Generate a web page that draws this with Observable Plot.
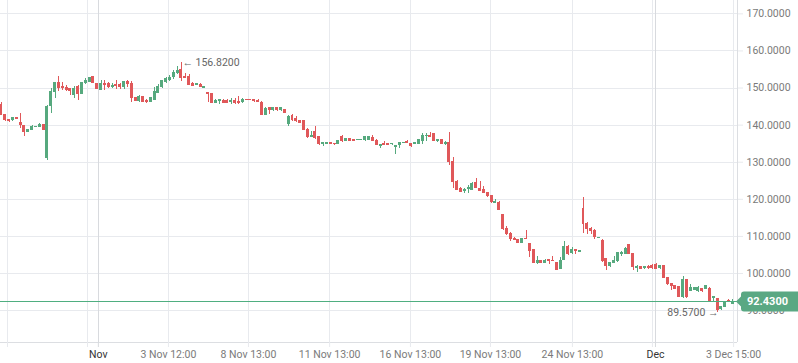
<!DOCTYPE html>
<html><head><meta charset="utf-8">
<script src="https://cdn.jsdelivr.net/npm/d3@7"></script>
<script src="https://cdn.jsdelivr.net/npm/@observablehq/plot@0.6"></script>
<style>html,body{margin:0;padding:0;background:#fff;overflow:hidden;width:798px;height:363px;} svg{display:block;}</style>
</head><body><div id="chart"></div>
<script>
const opens = [145.3,142.6,141.4,141.3,141.9,140.7,139.8,138.1,138.8,139.4,
139.6,140.1,131.1,145.1,148.8,151.4,150.2,150.0,149.7,148.1,
150.3,148.4,151.4,151.6,152.9,151.1,149.6,151.1,151.0,150.4,
150.9,150.8,150.2,151.5,151.2,147.4,146.6,147.7,146.5,146.3,
146.9,148.7,150.2,151.6,152.3,152.9,154.0,154.9,153.1,152.9,
151.1,150.9,150.9,150.0,148.6,148.4,146.1,146.4,146.6,146.4,
146.2,146.5,146.3,146.3,146.9,146.9,146.7,146.6,146.1,142.8,
144.6,144.0,144.5,144.0,144.2,140.2,142.5,141.6,141.0,141.0,
138.7,136.9,138.2,136.7,134.8,134.9,135.2,135.0,135.0,136.8,
135.8,136.3,135.9,136.0,136.0,135.9,136.1,136.6,135.7,134.5,
134.9,134.9,134.8,134.1,134.6,135.1,135.4,134.8,135.0,134.9,
135.6,137.0,137.2,137.5,135.7,135.9,135.0,135.1,130.0,124.8,
122.8,122.3,122.7,122.6,124.4,122.8,122.4,121.6,120.8,119.1,
119.1,115.9,111.9,110.6,109.3,108.9,108.1,109.4,107.9,106.4,
102.7,103.5,102.9,103.6,103.5,102.8,101.2,103.7,107.1,105.5,
106.4,105.9,117.4,113.4,111.9,111.4,109.6,108.8,103.9,101.9,
102.9,103.5,105.2,105.2,107.6,105.2,101.6,101.8,101.5,101.8,
101.9,102.2,101.6,101.9,98.7,97.2,96.6,96.3,93.6,98.3,
95.4,95.5,95.4,95.8,95.8,95.9,93.3,93.2,90.4,91.0,
92.6,91.9];
const highs = [146.0,142.9,141.6,142.1,142.1,143.2,140.0,138.9,139.9,139.6,
140.5,140.2,145.2,149.8,151.4,153.2,151.4,150.8,149.8,150.4,
150.8,151.4,152.5,152.9,153.0,151.2,152.0,152.0,151.5,151.1,
151.9,151.1,151.7,151.9,151.8,147.5,148.1,147.8,146.9,147.5,
150.2,150.9,152.1,152.8,153.5,154.6,155.7,156.82,153.8,153.6,
151.5,151.3,151.1,150.4,148.6,148.6,146.8,146.9,147.0,146.8,
147.1,147.1,147.8,147.1,146.9,146.9,147.0,147.0,146.3,144.8,
144.8,144.8,144.8,144.6,144.3,142.5,143.0,142.4,141.2,141.1,
139.0,138.2,139.6,136.9,135.3,135.3,135.3,135.1,135.6,137.1,
136.5,136.4,136.0,136.2,136.2,137.0,137.0,137.1,136.1,134.7,
135.6,135.0,135.0,134.4,135.1,135.4,135.8,134.9,135.3,136.2,
137.7,137.7,138.0,137.7,136.0,136.0,135.6,138.1,131.4,125.2,
123.2,123.0,123.6,124.5,125.6,124.7,123.4,121.8,121.0,119.9,
119.3,116.0,112.6,111.0,109.8,109.0,109.4,111.6,107.9,106.6,
104.5,103.6,103.7,103.6,104.6,103.0,104.4,108.5,107.6,107.1,
106.6,106.2,120.4,113.7,112.3,111.8,109.8,109.2,104.0,103.1,
104.5,105.7,106.0,106.9,107.8,105.4,102.2,102.0,101.8,102.1,
102.3,102.8,102.1,101.9,99.0,97.4,96.8,96.3,99.1,98.3,
97.1,96.3,96.4,95.8,96.9,96.2,93.8,93.3,91.0,92.4,
92.9,93.0];
const lows = [142.6,141.0,140.8,141.0,141.4,139.0,137.0,138.0,138.5,139.3,
139.4,138.5,130.6,143.1,147.1,149.1,149.3,149.2,148.0,147.1,
146.6,148.3,151.0,151.4,151.2,149.7,149.6,149.4,150.0,149.9,
149.7,149.6,149.6,150.1,146.0,146.5,146.2,146.0,145.7,146.2,
146.6,148.5,150.0,151.2,151.8,152.4,153.6,151.8,152.6,150.6,
150.4,150.7,150.1,149.9,146.1,145.9,145.7,145.6,145.9,145.8,
145.6,145.6,145.6,145.9,146.6,146.6,146.2,146.0,142.5,142.5,
143.0,143.7,143.6,143.6,143.2,139.6,141.0,140.8,140.4,138.6,
136.5,136.8,136.0,134.6,134.3,134.7,134.8,134.4,134.8,135.4,
135.5,135.7,135.5,135.8,135.8,135.6,135.9,135.5,134.5,133.6,
134.5,134.6,134.5,132.2,133.8,135.0,135.0,134.0,134.9,134.7,
134.9,135.6,136.6,135.6,135.4,134.7,134.4,129.2,123.0,122.5,
121.9,121.7,121.5,122.3,123.0,122.1,121.6,120.6,119.0,119.0,
117.1,111.7,110.3,108.7,108.8,108.0,108.1,109.1,104.4,102.7,
102.3,102.6,102.6,102.5,103.3,100.8,101.0,103.5,104.9,105.1,
105.1,105.8,110.9,110.6,110.6,109.3,109.5,103.0,100.8,101.6,
102.8,103.1,104.6,105.0,105.1,100.8,100.4,101.1,101.1,101.1,
101.1,101.1,101.2,98.6,96.9,95.5,95.6,93.4,93.3,93.3,
95.1,95.4,95.0,94.9,95.8,92.3,92.3,89.57,90.0,90.9,
92.2,91.6];
const closes = [142.8,141.3,141.0,141.8,141.6,140.1,138.1,138.8,139.4,139.5,
140.1,138.6,145.0,148.8,151.4,150.1,149.9,149.5,149.1,149.8,
148.4,151.4,152.0,152.8,151.3,149.7,151.1,150.9,150.2,150.6,
150.6,150.2,151.5,151.2,147.4,146.6,147.7,146.3,146.3,147.4,
148.8,150.2,151.8,152.5,152.8,154.1,154.5,152.8,152.8,150.9,
150.6,151.1,150.2,150.3,148.3,145.9,146.6,146.7,146.0,146.1,
146.6,146.1,145.9,146.8,146.7,146.7,146.4,146.2,142.8,144.3,
144.0,144.5,144.0,144.5,143.2,142.1,141.5,141.0,140.5,138.6,
136.9,137.0,136.5,135.0,135.1,135.2,135.0,134.8,135.6,135.6,
136.3,135.7,135.6,136.1,136.1,136.9,136.9,135.7,134.7,134.7,
134.7,134.7,135.0,134.3,135.1,135.3,135.1,134.5,135.2,136.1,
137.2,137.2,136.9,135.6,136.0,134.9,135.2,130.0,124.8,122.6,
122.1,122.6,123.0,124.1,123.0,122.3,121.6,120.8,119.2,119.3,
117.1,111.9,110.6,109.2,108.9,108.1,109.4,109.2,106.2,102.8,
103.5,102.7,103.4,103.4,103.3,101.0,103.5,107.1,105.3,106.4,
106.0,106.2,113.4,112.0,111.4,109.8,109.7,103.5,101.9,102.8,
103.5,105.6,105.6,106.7,105.3,101.7,101.8,101.2,101.8,101.5,
101.5,101.2,101.9,98.9,97.2,96.5,95.8,93.6,98.3,93.6,
96.2,96.0,96.1,95.3,96.7,92.7,93.6,90.2,90.9,92.2,
92.3,92.43];

const tickIndex = [1.57, 22.46, 43.6, 64.5, 85.7, 106.8, 127.7, 149.1, 170.0, 191.2];
const tickLabels = ["", "", "3 Nov 12:00", "8 Nov 13:00", "11 Nov 13:00", "16 Nov 13:00", "19 Nov 13:00", "24 Nov 13:00", "", "3 Dec 15:00"];
const monthIndex = [25.3, 170.8];
const monthLabels = ["Nov", "Dec"];
const yTicks = [90, 100, 110, 120, 130, 140, 150, 160, 170];
const lastPrice = 92.43;
const annotIndex = [47, 187];
const annotValue = [156.82, 89.57];
const annotLabels = ["\u2190 156.8200", "89.5700 \u2192"];

const RED = "#e0585a", GREEN = "#56a97e", LINE = "#4fae80";
const GRID = "#e8eaee", MONTH = "#d8dade";
const xDomain = [-0.261, 192.22];
const yDomain = [81.4, 173.6];

const candles = opens.map((o, i) => ({i, o, h: highs[i], l: lows[i], c: closes[i], up: closes[i] >= o}));
const ups = candles.filter(d => d.up), downs = candles.filter(d => !d.up);
const tickMap = new Map(tickIndex.map((t, k) => [t, tickLabels[k]]));
const monthMap = new Map(monthIndex.map((t, k) => [t, monthLabels[k]]));
const annots = annotIndex.map((i, k) => ({i, v: annotValue[k], label: annotLabels[k]}));

const bodyOpts = (color) => ({x1: d => d.i - 0.39, x2: d => d.i + 0.39, y1: "o", y2: "c", fill: color, insetTop: -0.5, insetBottom: -0.5, shapeRendering: "crispEdges"});
const wickOpts = (color) => ({x: "i", y1: "l", y2: "h", stroke: color, strokeWidth: 1, shapeRendering: "crispEdges"});

const plot = Plot.plot({
  width: 798, height: 363,
  marginLeft: 0, marginRight: 61, marginTop: 0, marginBottom: 21,
  style: {fontFamily: "Roboto, sans-serif", fontSize: "10.5px", background: "#fff", overflow: "hidden"},
  x: {domain: xDomain, axis: null, label: null},
  y: {domain: yDomain, axis: null, label: null},
  marks: [
    Plot.ruleY(yTicks, {stroke: GRID, shapeRendering: "crispEdges"}),
    Plot.ruleX(tickIndex, {stroke: GRID, shapeRendering: "crispEdges"}),
    Plot.ruleX(monthIndex, {stroke: MONTH, shapeRendering: "crispEdges"}),
    Plot.ruleY([yDomain[0]], {stroke: "#dcdee2", shapeRendering: "crispEdges"}),
    Plot.ruleX([xDomain[1]], {stroke: "#dcdee2", shapeRendering: "crispEdges"}),
    Plot.axisY(yTicks, {anchor: "right", label: null, tickSize: 5, tickPadding: 4, tickFormat: d => d.toFixed(4), stroke: GRID, fill: "#7a7a7a", fontSize: 10.5}),
    Plot.axisX(tickIndex, {anchor: "bottom", label: null, tickSize: 5, tickPadding: 3, tickFormat: d => tickMap.get(d), stroke: GRID, fill: "#7a7a7a", fontSize: 10.5}),
    Plot.axisX(monthIndex, {anchor: "bottom", label: null, tickSize: 5, tickPadding: 3, tickFormat: d => monthMap.get(d), stroke: MONTH, fill: "#333", fontSize: 10.5}),
    Plot.ruleX(ups, wickOpts(GREEN)),
    Plot.ruleX(downs, wickOpts(RED)),
    Plot.rect(ups, bodyOpts(GREEN)),
    Plot.rect(downs, bodyOpts(RED)),
    Plot.text(annots.slice(0, 1), {x: "i", y: "v", text: "label", textAnchor: "start", dx: 1, fill: "#666", fontSize: 10.5}),
    Plot.text(annots.slice(1), {x: "i", y: "v", text: "label", textAnchor: "end", dx: 1, fill: "#666", fontSize: 10.5})
  ]
});

const svg = d3.select(plot);
const yc = Math.round(plot.scale("y").apply(lastPrice)) + 0.5;
const g = svg.append("g");
// current price line, placed with the plot's own y scale
g.append("line")
  .attr("x1", 0).attr("x2", 741).attr("y1", yc).attr("y2", yc)
  .attr("stroke", LINE).attr("stroke-width", 1);
g.append("path")
  .attr("d", `M736,${yc} L741,${yc - 5} L741,${yc - 7} Q741,${yc - 10} 744,${yc - 10} L798,${yc - 10} L798,${yc + 10} L744,${yc + 10} Q741,${yc + 10} 741,${yc + 7} L741,${yc + 5} Z`)
  .attr("fill", "#5aa883");
g.append("text")
  .attr("x", 747).attr("y", yc).attr("dy", "0.36em")
  .attr("text-anchor", "start")
  .attr("fill", "#fff").attr("font-weight", "bold").attr("font-size", "11px")
  .attr("font-family", "Roboto, sans-serif")
  .text(lastPrice.toFixed(4));

document.getElementById("chart").appendChild(plot);
</script>
</body></html>
